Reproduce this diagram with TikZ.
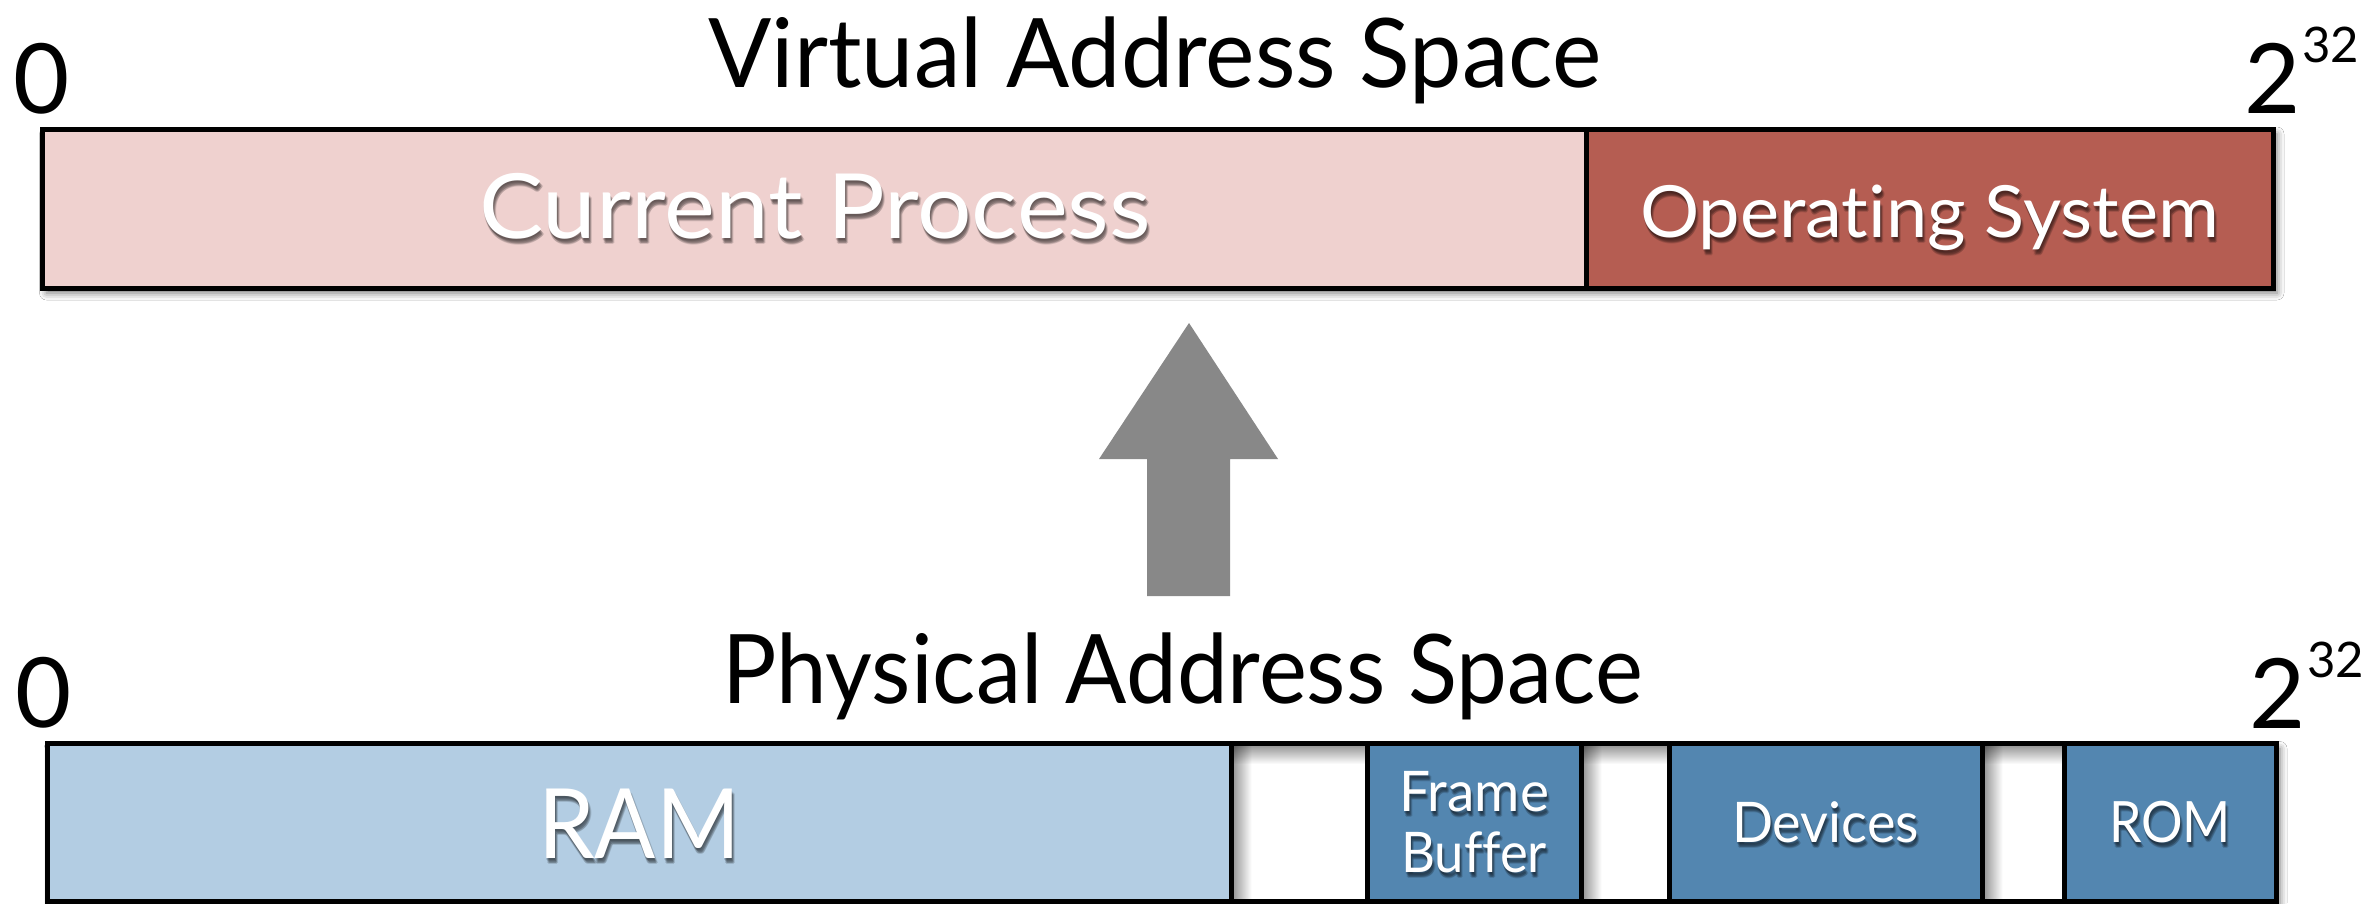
\documentclass[tikz,border=0pt]{standalone}
\usepackage{fontspec}
\setmainfont{Lato}[Ligatures=NoCommon]
\usetikzlibrary{shadows.blur,fadings}

\definecolor{procfill}{HTML}{EFD1CF}
\definecolor{osfill}{HTML}{B55D52}
\definecolor{ramfill}{HTML}{B3CDE3}
\definecolor{devfill}{HTML}{5386B0}
\definecolor{arrowgray}{HTML}{888888}

% set a text so that its width is #1, keeping its height
\newdimen\labw
\newcommand\fitw[2]{\settowidth{\labw}{#2}\scalebox{\fpeval{#1/\labw}}[1]{#2}}

% white label with a soft dark drop shadow: name, position, size, width, text
\newcommand\wlabel[5]{%
  \foreach \dx/\dy [count=\k] in {0/2,1/3,2/4,1/5,3/5,2/6} {
    \node[onbox, text=black, text opacity=0.13, font=\fontsize{#3}{#3}\selectfont]
      (#1-s\k) at ([shift={(\dx,\dy)}]#2) {\fitw{#4}{#5}};
  }
  \node[onbox, font=\fontsize{#3}{#3}\selectfont] (#1) at (#2) {\fitw{#4}{#5}};
}

\tikzset{
  cellframe/.style={rectangle, inner sep=0pt, outer sep=0pt, draw=black, line width=5pt},
  vseg/.style={cellframe, minimum height=159pt},
  pseg/.style={cellframe, minimum height=157.5pt},
  barshadow/.style={blur shadow={shadow xshift=4pt, shadow yshift=-5pt,
      shadow blur radius=7pt, shadow opacity=55}},
  title/.style={inner sep=0pt, anchor=base, font=\fontsize{96}{100}\selectfont},
  bound/.style={inner sep=0pt, anchor=base, font=\fontsize{97}{100}\selectfont},
  onbox/.style={inner sep=0pt, anchor=base, text=white},
  inset/.style={black, opacity=0.4},
}

\begin{document}
\begin{tikzpicture}[x=1pt, y=-1pt]
\useasboundingbox (0,0) rectangle (2377,903);
\fill[white] (0,0) rectangle (2377,903);

% ---------- virtual address space ----------
\node[title] (vtitle) at (1155,87) {\fitw{893pt}{Virtual Address Space}};
\node[bound] (vzero) at (41.5,113) {0};
\node[bound, anchor=base west] (vtop) at (2244,113)
  {2\hspace{2pt}\raisebox{51pt}{\fontsize{49}{50}\selectfont 32}};

\node[vseg, fill=white, barshadow, minimum width=2230.5pt] (vbar) at (1157.75,208.5) {};
\node[vseg, fill=procfill, minimum width=1543.5pt] (proc) at (814.25,208.5) {};
\node[vseg, fill=osfill, minimum width=687pt] (os) at (1929.5,208.5) {};

\wlabel{proclab}{815,238}{90}{672pt}{Current Process}
\wlabel{oslab}{1929.5,237}{72}{579pt}{Operating System}

% ---------- mapping arrow ----------
\coordinate (tip) at (1189,323);
\fill[arrowgray] (1147,596) -- (1147,459) -- (1099,459) -- (tip)
  -- (1278,459) -- (1230,459) -- (1230,596) -- cycle;

% ---------- physical address space ----------
\node[title] (ptitle) at (1182.5,703) {\fitw{921pt}{Physical Address Space}};
\node[bound] (pzero) at (43.5,727) {0};
\node[bound, anchor=base west] (ptop) at (2249,728)
  {2\hspace{2pt}\raisebox{51pt}{\fontsize{49}{50}\selectfont 32}};

\node[pseg, fill=white, barshadow, minimum width=2229pt] (pbar) at (1161.5,822.25) {};

% recessed look of the unused ranges
\foreach \a/\b [count=\g] in {1231/1367,1581/1669,1982/2064} {
  \fill[inset, path fading=east] (\a+2.5,746) rectangle (\a+20.5,898.5);
  \fill[inset, path fading=south] (\a+2.5,746) rectangle (\b-2.5,764);
}

\node[pseg, fill=ramfill, minimum width=1184pt] (ram) at (639,822.25) {};
\node[pseg, fill=devfill, minimum width=214pt] (fb) at (1474,822.25) {};
\node[pseg, fill=devfill, minimum width=313pt] (dev) at (1825.5,822.25) {};
\node[pseg, fill=devfill, minimum width=212pt] (rom) at (2170,822.25) {};

\wlabel{ramlab}{639,858}{97}{202pt}{RAM}
\wlabel{fblabA}{1474,811}{56}{150pt}{Frame}
\wlabel{fblabB}{1474,872}{56}{146pt}{Buffer}
\wlabel{devlab}{1825.5,842}{56}{187pt}{Devices}
\wlabel{romlab}{2170,842}{57}{122pt}{ROM}
\end{tikzpicture}
\end{document}
